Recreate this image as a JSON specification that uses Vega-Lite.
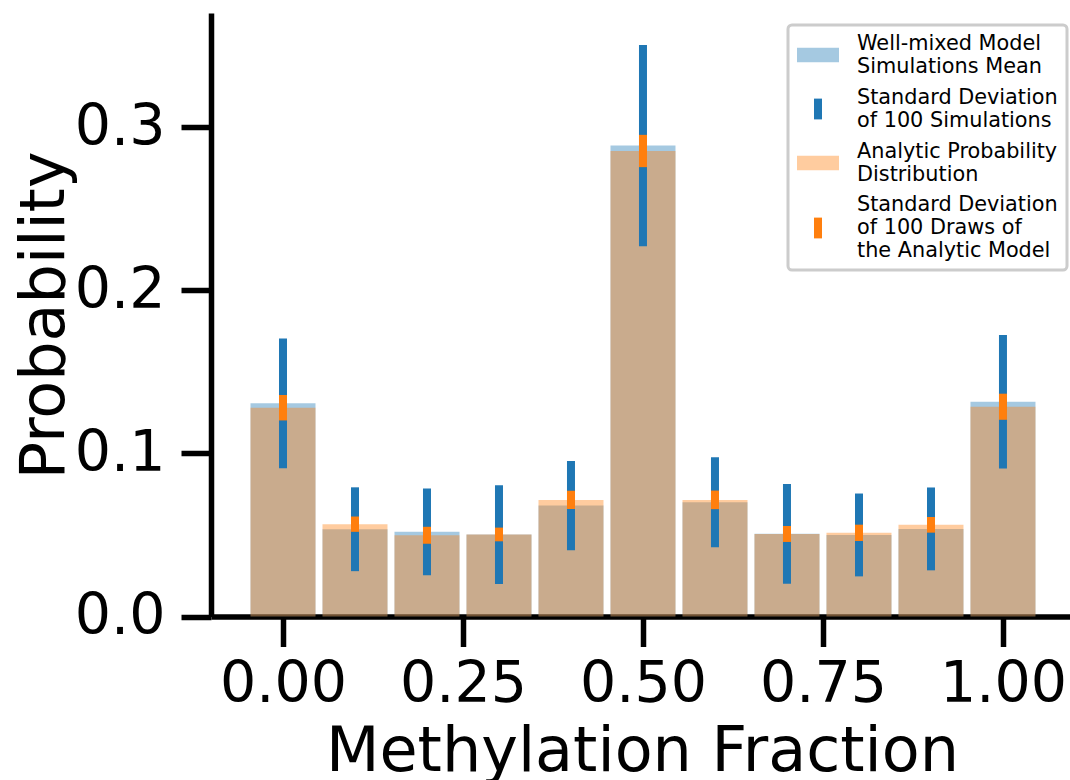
{
  "$schema": "https://vega.github.io/schema/vega-lite/v6.json",
  "width": 859,
  "height": 603.5,
  "autosize": {"type": "none"},
  "padding": {"left": 211, "top": 13, "right": 0, "bottom": 163.5},
  "background": "white",
  "data": {"values": [
    {"x": 0.0, "model": "sim", "mean": 0.1307, "sd": 0.0398},
    {"x": 0.1, "model": "sim", "mean": 0.0535, "sd": 0.0257},
    {"x": 0.2, "model": "sim", "mean": 0.0519, "sd": 0.0266},
    {"x": 0.3, "model": "sim", "mean": 0.0502, "sd": 0.0303},
    {"x": 0.4, "model": "sim", "mean": 0.0680, "sd": 0.0274},
    {"x": 0.5, "model": "sim", "mean": 0.2887, "sd": 0.0617},
    {"x": 0.6, "model": "sim", "mean": 0.0701, "sd": 0.0276},
    {"x": 0.7, "model": "sim", "mean": 0.0507, "sd": 0.0306},
    {"x": 0.8, "model": "sim", "mean": 0.0500, "sd": 0.0254},
    {"x": 0.9, "model": "sim", "mean": 0.0537, "sd": 0.0254},
    {"x": 1.0, "model": "sim", "mean": 0.1317, "sd": 0.0409},
    {"x": 0.0, "model": "ana", "mean": 0.1280, "sd": 0.0078},
    {"x": 0.1, "model": "ana", "mean": 0.0566, "sd": 0.0047},
    {"x": 0.2, "model": "ana", "mean": 0.0498, "sd": 0.0052},
    {"x": 0.3, "model": "ana", "mean": 0.0503, "sd": 0.0042},
    {"x": 0.4, "model": "ana", "mean": 0.0715, "sd": 0.0056},
    {"x": 0.5, "model": "ana", "mean": 0.2854, "sd": 0.0099},
    {"x": 0.6, "model": "ana", "mean": 0.0715, "sd": 0.0057},
    {"x": 0.7, "model": "ana", "mean": 0.0506, "sd": 0.0049},
    {"x": 0.8, "model": "ana", "mean": 0.0513, "sd": 0.0050},
    {"x": 0.9, "model": "ana", "mean": 0.0562, "sd": 0.0048},
    {"x": 1.0, "model": "ana", "mean": 0.1286, "sd": 0.0080}
  ]},
  "encoding": {
    "x": {
      "field": "x", "type": "quantitative", "title": "Methylation Fraction",
      "scale": {"domain": [-0.1, 1.0931], "nice": false, "zero": false, "padding": 0},
      "axis": {"values": [0, 0.25, 0.5, 0.75, 1], "format": ".2f", "labelBaseline": "alphabetic", "labelPadding": 55, "labelFlush": false, "labelOverlap": false, "titleBaseline": "alphabetic", "titleX": 431, "titleY": 153.5, "titleAnchor": "middle"}
    }
  },
  "layer": [
    {
      "transform": [{"filter": "datum.model == 'sim'"}],
      "mark": {"type": "bar", "width": 65},
      "encoding": {
        "y": {"field": "mean", "type": "quantitative", "title": "Probability",
          "scale": {"domain": [0, 0.37], "nice": false},
          "axis": {"values": [0, 0.1, 0.2, 0.3], "format": ".1f", "labelPadding": 16, "labelOverlap": false, "titleBaseline": "alphabetic", "titleX": -148, "titleY": 301.75, "titleAngle": 270, "titleAlign": "center"}},
        "color": {"datum": "Well-mixed Model|Simulations Mean", "type": "nominal",
          "scale": {
            "domain": ["Well-mixed Model|Simulations Mean", "Standard Deviation|of 100 Simulations", "Analytic Probability|Distribution", "Standard Deviation|of 100 Draws of|the Analytic Model"],
            "range": ["rgba(31,119,180,0.4)", "#1f77b4", "rgba(255,127,14,0.4)", "#ff7f0e"]
          },
          "legend": {
            "title": null, "orient": "none", "legendX": 577, "legendY": 12,
            "labelExpr": "split(datum.label, '|')",
            "labelFont": "DejaVu Sans", "labelFontSize": 20.8, "labelColor": "black", "labelLimit": 400, "labelOffset": 18,
            "symbolSize": 1764, "symbolStrokeWidth": 0, "rowPadding": 9, "padding": 9,
            "strokeColor": "#cccccc", "fillColor": "white", "cornerRadius": 4,
            "encode": {
              "symbols": {"update": {
                "shape": {"signal": "indexof(datum.value, 'Deviation') >= 0 ? 'M-0.19,-0.495H0.19V0.495H-0.19Z' : 'M-1,-0.35H1V0.35H-1Z'"},
                "fill": {"scale": "color", "field": "value"},
                "stroke": {"value": "transparent"},
                "strokeWidth": {"value": 0},
                "opacity": {"value": 1}
              }},
              "labels": {"update": {
                "lineHeight": {"value": 23},
                "dy": {"signal": "-(length(split(datum.value, '|')) - 1) * 11.5"}
              }},
              "legend": {"update": {"strokeWidth": {"value": 3}}}
            }
          }
        }
      }
    },
    {
      "transform": [{"filter": "datum.model == 'ana'"}],
      "mark": {"type": "bar", "width": 65},
      "encoding": {
        "y": {"field": "mean", "type": "quantitative", "title": "Probability"},
        "color": {"datum": "Analytic Probability|Distribution", "type": "nominal"}
      }
    },
    {
      "transform": [{"filter": "datum.model == 'sim'"}],
      "mark": {"type": "errorbar", "thickness": 8, "ticks": false},
      "encoding": {
        "y": {"field": "mean", "type": "quantitative", "title": "Probability"},
        "yError": {"field": "sd"},
        "color": {"datum": "Standard Deviation|of 100 Simulations", "type": "nominal"}
      }
    },
    {
      "transform": [{"filter": "datum.model == 'ana'"}],
      "mark": {"type": "errorbar", "thickness": 8, "ticks": false},
      "encoding": {
        "y": {"field": "mean", "type": "quantitative", "title": "Probability"},
        "yError": {"field": "sd"},
        "color": {"datum": "Standard Deviation|of 100 Draws of|the Analytic Model", "type": "nominal"}
      }
    }
  ],
  "config": {
    "view": {"stroke": null},
    "axis": {
      "grid": false, "domainColor": "black", "domainWidth": 5.5, "tickColor": "black", "tickWidth": 5.5, "tickSize": 30,
      "labelFont": "DejaVu Sans", "labelFontSize": 57, "labelColor": "black",
      "titleFont": "DejaVu Sans", "titleFontSize": 62, "titleFontWeight": "normal", "titleColor": "black"
    }
  }
}
